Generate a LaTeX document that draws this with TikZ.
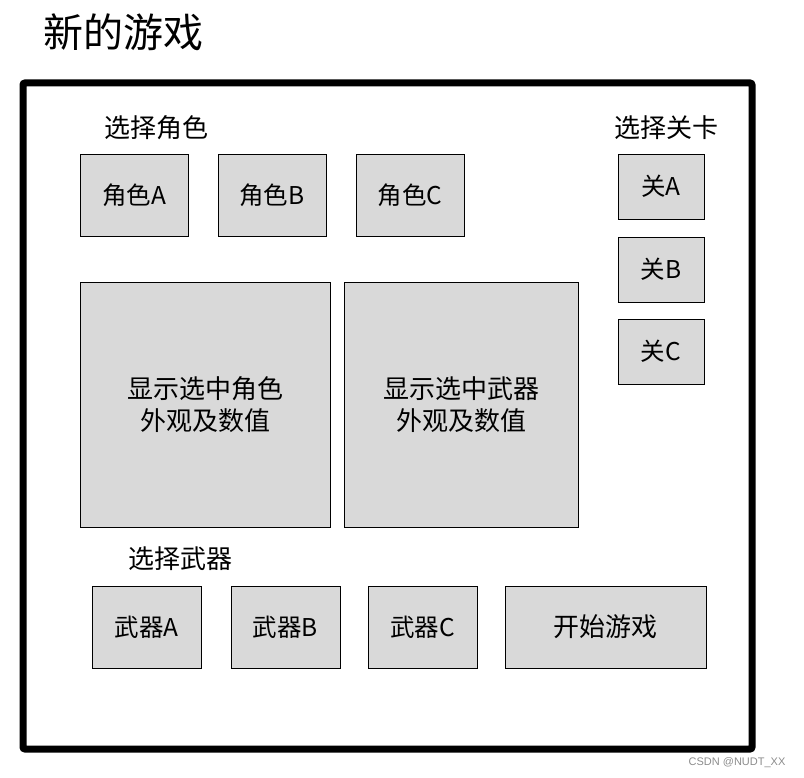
\documentclass[tikz,border=0pt]{standalone}
\usepackage{fontspec}
\newfontfamily\cjk{Noto Sans CJK SC}
\newfontfamily\wmfont{Liberation Sans}
\definecolor{boxgray}{RGB}{217,217,217}
\usetikzlibrary{positioning}

\begin{document}
\begin{tikzpicture}[
  x=1pt, y=-1pt,
  font=\cjk\fontsize{24.5}{30}\selectfont,
  box/.style={
    draw,
    fill=boxgray,
    line width=0.8pt,
    inner sep=0pt,
    outer sep=0pt,
    align=center,
    anchor=north west,
  },
  lbl/.style={font=\cjk\fontsize{26}{32}\selectfont},
]
  \useasboundingbox (0,0) rectangle (804,778);
  % Title and outer frame
  \node[font=\cjk\fontsize{40}{44}\selectfont] (title) at (123,32) {新的游戏};
  \node[draw, line width=7pt, rounded corners=2pt, outer sep=0pt, minimum width=729,
    minimum height=666, anchor=north west] (frame) at (23,83) {};
  % Characters
  \node[lbl] (rolelbl) at (156,128) {选择角色};
  \foreach \n/\x in {A/80,B/218,C/356}
    \node[box, minimum width=108, minimum height=82] (role\n) at (\x,154) {角色\n};
  % Levels
  \node[lbl] (levellbl) at (666,128) {选择关卡};
  \foreach \n/\y in {A/154,B/237,C/319}
    \node[box, minimum width=86, minimum height=65] (level\n) at (618,\y) {关\n};
  % Preview panels
  \node[box, minimum width=250, minimum height=245, font=\cjk\fontsize{26}{32}\selectfont]
    (roleview) at (80,282) {显示选中角色\\外观及数值};
  \node[box, minimum width=234, minimum height=245, font=\cjk\fontsize{26}{32}\selectfont]
    (weaponview) at (344,282) {显示选中武器\\外观及数值};
  % Weapons and start
  \node[lbl] (weaponlbl) at (180,559) {选择武器};
  \foreach \n/\x in {A/92,B/231,C/368}
    \node[box, minimum width=109, minimum height=82] (weapon\n) at (\x,586) {武器\n};
  \node[box, minimum width=201, minimum height=82, font=\cjk\fontsize{26}{32}\selectfont]
    (start) at (505,586) {开始游戏};
  \node[font=\wmfont\fontsize{11}{13}\selectfont, text=black!45] (mark) at (737,763) {CSDN @NUDT\_XX};
\end{tikzpicture}
\end{document}
